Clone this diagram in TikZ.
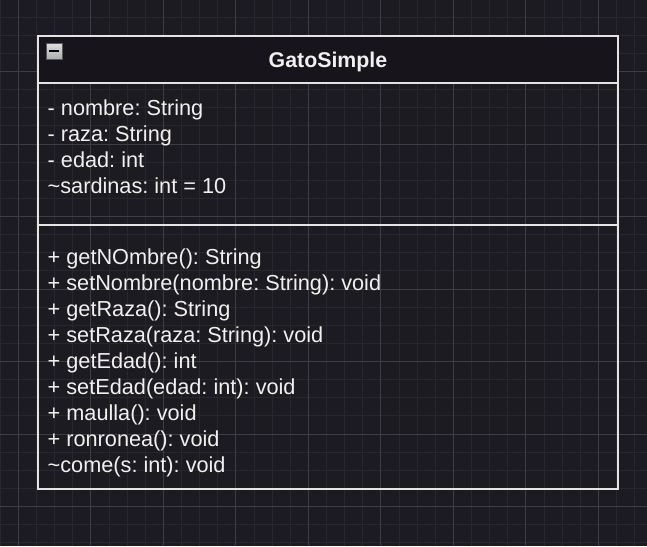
\documentclass[tikz,border=0pt]{standalone}
\usepackage{fontspec}
\setmainfont{Liberation Sans}
\frenchspacing
\definecolor{canvas}{HTML}{1D1B22}
\definecolor{gridminor}{HTML}{28262E}
\definecolor{gridmajor}{HTML}{3E3C45}
\definecolor{headfill}{HTML}{17141C}
\definecolor{ink}{HTML}{F2F0EC}
\tikzset{
  minorline/.style={gridminor, line width=0.9pt},
  majorline/.style={gridmajor, line width=0.9pt},
  border/.style={draw=ink!95!black, line width=2pt},
  title/.style={anchor=base, inner sep=0pt, text=ink, font=\fontsize{21.33}{26}\selectfont\bfseries},
  member/.style={anchor=base west, inner sep=0pt, text=ink, font=\fontsize{21.7}{26}\selectfont},
  toggle/.style={draw=gray!70!black, line width=0.6pt, minimum size=16pt, inner sep=0pt, top color=gray!25, bottom color=gray!65}
}
\begin{document}
\begin{tikzpicture}[x=1pt, y=-1pt]
\fill[canvas] (0,0) rectangle (647,546);
\useasboundingbox (0,0) rectangle (647,546);

% grid
\foreach \i in {0,...,36}
       \draw[minorline] (\i*18.125+0.2,0) -- ++(0,546);
\foreach \i in {0,...,30}
       \draw[minorline] (0,\i*18.125-1) -- ++(647,0);
\foreach \i in {1,5,...,33}
       \draw[majorline] (\i*18.125+0.2,0) -- ++(0,546);
\foreach \i in {4,8,...,28}
       \draw[majorline] (0,\i*18.125-1) -- ++(647,0);

% class box
\coordinate (nw) at (38,36);
\coordinate (se) at (618,489);
\coordinate (headl) at (38,83);
\coordinate (headr) at (618,83);
\coordinate (sepl) at (38,225);
\coordinate (sepr) at (618,225);

\fill[headfill] (nw) rectangle (headr);
\draw[border] (nw) rectangle (se);
\draw[border] (headl) -- (headr);
\draw[border] (sepl) -- (sepr);

\node[toggle] (fold) at (54,51) {};
\draw[black, line width=2.4pt] ([xshift=-5pt]fold.center) -- ([xshift=5pt]fold.center);

\node[title] (classname) at (328,67) {GatoSimple};

% attributes
\foreach \t [count=\k] in {- nombre: String, - raza: String, - edad: int, \textasciitilde sardinas: int = 10}
       \node[member] (attr\k) at (47.5,89+26*\k) {\t};

% methods
\foreach \t [count=\k] in {+ getNOmbre(): String, + setNombre(nombre: String): void, + getRaza(): String,
   + setRaza(raza: String): void, + getEdad(): int, + setEdad(edad: int): void, + maulla(): void,
   + ronronea(): void, \textasciitilde come(s: int): void}
       \node[member] (meth\k) at (47.5,238.5+26*\k) {\t};
\end{tikzpicture}
\end{document}
